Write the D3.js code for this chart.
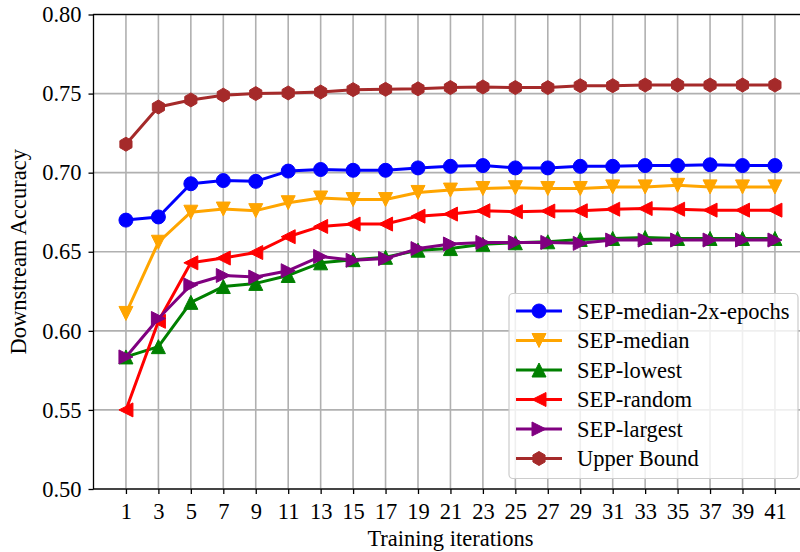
<!DOCTYPE html>
<html>
<head>
<meta charset="utf-8">
<script src="https://cdn.jsdelivr.net/npm/d3@7/dist/d3.min.js"></script>
<style>
  html, body { margin: 0; padding: 0; background: #fff; }
  svg { display: block; }
  text { font-family: "Liberation Serif", "Times New Roman", serif; fill: #000; }
</style>
</head>
<body>
<svg id="chart" width="800" height="552"></svg>
<script>
// Training iterations on the x axis
const iterations = [1, 3, 5, 7, 9, 11, 13, 15, 17, 19, 21, 23, 25, 27, 29, 31, 33, 35, 37, 39, 41];

// Downstream accuracy per strategy
const sepMedian2xEpochs = [0.670, 0.672, 0.693, 0.695, 0.6945, 0.701, 0.702, 0.7015, 0.7015, 0.703, 0.704, 0.7045, 0.703, 0.703, 0.704, 0.704, 0.7045, 0.7045, 0.705, 0.7045, 0.7045];
const sepMedian = [0.611, 0.656, 0.675, 0.677, 0.676, 0.681, 0.684, 0.683, 0.683, 0.6875, 0.689, 0.690, 0.6905, 0.690, 0.690, 0.691, 0.691, 0.692, 0.691, 0.691, 0.691];
const sepLowest = [0.5835, 0.590, 0.618, 0.628, 0.630, 0.635, 0.643, 0.645, 0.6465, 0.651, 0.652, 0.6547, 0.6557, 0.6563, 0.6578, 0.6584, 0.659, 0.6584, 0.6584, 0.6584, 0.6584];
const sepRandom = [0.550, 0.606, 0.643, 0.646, 0.6495, 0.6595, 0.666, 0.6675, 0.6675, 0.6725, 0.6738, 0.6759, 0.6753, 0.6757, 0.6759, 0.6769, 0.6773, 0.6769, 0.6763, 0.6763, 0.6763];
const sepLargest = [0.5835, 0.6078, 0.629, 0.635, 0.634, 0.638, 0.647, 0.6446, 0.6457, 0.652, 0.6549, 0.6559, 0.6559, 0.6559, 0.6553, 0.6574, 0.6574, 0.6574, 0.6574, 0.6574, 0.6574];
const upperBound = [0.718, 0.7415, 0.746, 0.749, 0.750, 0.7504, 0.751, 0.7525, 0.7527, 0.753, 0.7538, 0.7542, 0.7538, 0.7538, 0.755, 0.755, 0.7554, 0.7554, 0.7554, 0.7554, 0.7554];

const seriesNames = ["SEP-median-2x-epochs", "SEP-median", "SEP-lowest", "SEP-random", "SEP-largest", "Upper Bound"];
const seriesColors = ["#0000ff", "#ffa500", "#008000", "#ff0000", "#800080", "#a52a2a"];
const seriesMarkers = ["circle", "triDown", "triUp", "triLeft", "triRight", "hexagon"];
const seriesValues = [sepMedian2xEpochs, sepMedian, sepLowest, sepRandom, sepLargest, upperBound];

const yTicks = [0.50, 0.55, 0.60, 0.65, 0.70, 0.75, 0.80];

const series = seriesNames.map((name, i) => ({
  name, color: seriesColors[i], marker: seriesMarkers[i],
  points: iterations.map((it, j) => ({ x: it, y: seriesValues[i][j] }))
}));

// Layout
const margin = { left: 93.5, top: 14.5, right: 807.4, bottom: 489 };
const svg = d3.select("#chart");

const x = d3.scaleLinear().domain([-1, 43]).range([margin.left, margin.right]);
const y = d3.scaleLinear().domain([0.50, 0.80]).range([margin.bottom, margin.top]);

const FONT = 22.5;
const M = 7; // marker half-size

function markerPath(type, r) {
  switch (type) {
    case "circle":
      return `M${r},0A${r},${r},0,1,1,${-r},0A${r},${r},0,1,1,${r},0Z`;
    case "triDown":
      return `M0,${r}L${-r},${-r}L${r},${-r}Z`;
    case "triUp":
      return `M0,${-r}L${-r},${r}L${r},${r}Z`;
    case "triLeft":
      return `M${-r},0L${r},${-r}L${r},${r}Z`;
    case "triRight":
      return `M${r},0L${-r},${-r}L${-r},${r}Z`;
    case "hexagon": {
      const pts = d3.range(6).map(k => {
        const a = -Math.PI / 2 + k * Math.PI / 3;
        return [r * Math.cos(a), r * Math.sin(a)];
      });
      return "M" + pts.map(p => p[0].toFixed(2) + "," + p[1].toFixed(2)).join("L") + "Z";
    }
  }
}

// Grid
const grid = svg.append("g").attr("class", "grid");
grid.selectAll("line.gx").data(iterations).join("line")
  .attr("x1", d => x(d)).attr("x2", d => x(d))
  .attr("y1", margin.top).attr("y2", margin.bottom)
  .attr("stroke", "#b0b0b0").attr("stroke-width", 1.6);
grid.selectAll("line.gy").data(yTicks).join("line")
  .attr("x1", margin.left).attr("x2", margin.right)
  .attr("y1", d => y(d)).attr("y2", d => y(d))
  .attr("stroke", "#b0b0b0").attr("stroke-width", 1.6);

// Series
const clipId = "plotClip";
svg.append("clipPath").attr("id", clipId).append("rect")
  .attr("x", margin.left).attr("y", margin.top)
  .attr("width", margin.right - margin.left).attr("height", margin.bottom - margin.top);

const line = d3.line().x(d => x(d.x)).y(d => y(d.y));
const plot = svg.append("g");
series.forEach(s => {
  const g = plot.append("g");
  g.append("path").datum(s.points)
    .attr("d", line).attr("fill", "none")
    .attr("stroke", s.color).attr("stroke-width", 3).attr("stroke-linejoin", "round")
    .attr("clip-path", `url(#${clipId})`);
  g.selectAll("path.m").data(s.points).join("path")
    .attr("class", "m")
    .attr("transform", d => `translate(${x(d.x)},${y(d.y)})`)
    .attr("d", markerPath(s.marker, M))
    .attr("fill", s.color).attr("stroke", s.color).attr("stroke-width", 1);
});

// Axes
const xAxis = d3.axisBottom(x).tickValues(iterations).tickSize(5).tickPadding(9).tickFormat(d3.format("d"));
const yAxis = d3.axisLeft(y).tickValues(yTicks).tickSize(5).tickPadding(7).tickFormat(d3.format(".2f"));

const gx = svg.append("g").attr("transform", `translate(0,${margin.bottom})`).call(xAxis);
const gy = svg.append("g").attr("transform", `translate(${margin.left},0)`).call(yAxis);
[gx, gy].forEach(g => {
  g.select(".domain").remove();
  g.selectAll(".tick line").attr("stroke", "#000").attr("stroke-width", 1.3);
  g.selectAll(".tick text").style("font-family", '"Liberation Serif", serif').style("font-size", FONT + "px").attr("fill", "#000");
});

// Spines
const spines = svg.append("g").attr("fill", "none").attr("stroke", "#000").attr("stroke-width", 1.3);
spines.append("rect")
  .attr("x", margin.left).attr("y", margin.top)
  .attr("width", margin.right - margin.left).attr("height", margin.bottom - margin.top);

// Axis labels
svg.append("text")
  .attr("x", (margin.left + margin.right) / 2).attr("y", 546)
  .attr("text-anchor", "middle").style("font-size", FONT + "px")
  .text("Training iterations");
svg.append("text")
  .attr("transform", `translate(26,${(margin.top + margin.bottom) / 2}) rotate(-90)`)
  .attr("text-anchor", "middle").style("font-size", FONT + "px")
  .text("Downstream Accuracy");

// Legend
const legend = svg.append("g");
legend.append("rect")
  .attr("x", 509).attr("y", 293.5).attr("width", 289).attr("height", 185)
  .attr("rx", 4).attr("ry", 4)
  .attr("fill", "#fff").attr("fill-opacity", 0.8)
  .attr("stroke", "#cccccc").attr("stroke-width", 1.2);
const rowY = d3.scaleLinear().domain([0, series.length - 1]).range([311, 458.5]);
series.forEach((s, i) => {
  const yy = rowY(i);
  legend.append("line")
    .attr("x1", 516).attr("x2", 562).attr("y1", yy).attr("y2", yy)
    .attr("stroke", s.color).attr("stroke-width", 3);
  legend.append("path")
    .attr("transform", `translate(539,${yy})`)
    .attr("d", markerPath(s.marker, M))
    .attr("fill", s.color).attr("stroke", s.color).attr("stroke-width", 1);
  legend.append("text")
    .attr("x", 577).attr("y", yy).attr("dy", "0.35em")
    .style("font-size", FONT + "px")
    .text(s.name);
});
</script>
</body>
</html>
